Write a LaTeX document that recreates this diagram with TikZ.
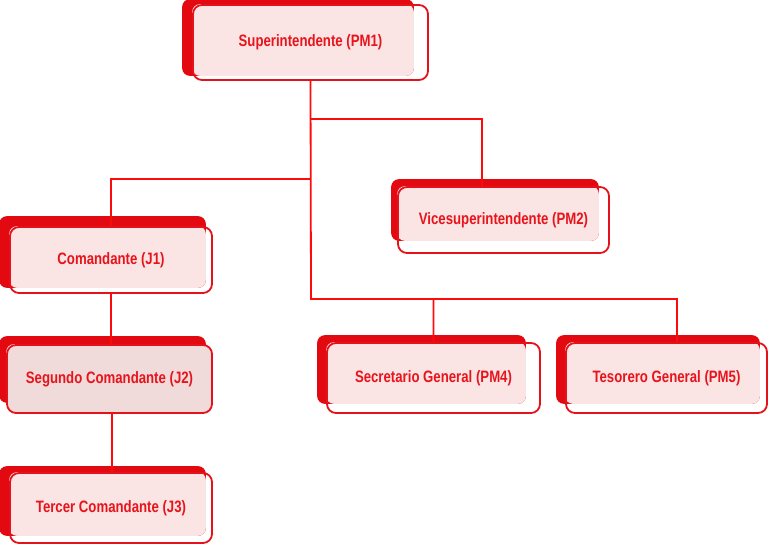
\documentclass[tikz,border=0pt]{standalone}
\usepackage{fontspec}
\setmainfont{Liberation Sans}[FakeStretch=0.8]
\usetikzlibrary{backgrounds}

\definecolor{sombra}{HTML}{E20A10}
\definecolor{borde}{HTML}{E5121B}
\definecolor{texto}{HTML}{E8141C}
\definecolor{linea}{HTML}{FF0A0A}
\definecolor{rosa}{HTML}{FBE4E4}
\definecolor{rosaosc}{HTML}{F0DADA}

\tikzset{
  puesto/.style={draw=borde, line width=1.8pt, rounded corners=9pt, text=texto,
    font=\fontsize{16.5}{18}\selectfont\bfseries},
  enlace/.style={draw=linea, line width=1.8pt},
}

\begin{document}
\begin{tikzpicture}[x=1pt,y=-1pt]
    \useasboundingbox (0,0) rectangle (768,545);
    % puestos
    \node[puesto, minimum width=235pt, minimum height=75pt] (pm1) at (310.5,42.5) {Superintendente (PM1)};
    \node[puesto, minimum width=211pt, minimum height=66pt] (pm2) at (503.5,220) {Vicesuperintendente (PM2)};
    \node[puesto, minimum width=202pt, minimum height=66pt] (j1) at (111,260) {Comandante (J1)};
    \node[puesto, minimum width=205pt, minimum height=68pt, fill=rosaosc] (j2) at (109.5,379) {Segundo Comandante (J2)};
    \node[puesto, minimum width=202pt, minimum height=70pt] (j3) at (111,508) {Tercer Comandante (J3)};
    \node[puesto, minimum width=213pt, minimum height=70pt] (pm4) at (433.5,378) {Secretario General (PM4)};
    \node[puesto, minimum width=201pt, minimum height=70pt] (pm5) at (666.5,378) {Tesorero General (PM5)};

    % sombras y relleno
    \begin{scope}[on background layer]
    \foreach \n/\l/\t/\r/\b in {pm1/10/5/15/5, pm2/6/7/11/13, j1/10/10/7/6, j2/7/8/7/11,
                                j3/10/6/7/8, pm4/9/7/15/10, pm5/9/7/8/10} {
        \fill[sombra, rounded corners=8pt] ([xshift=-\l pt, yshift=\t pt]\n.north west)
            rectangle ([xshift=-\r pt, yshift=\b pt]\n.south east);
        \fill[rosa, rounded corners=8pt] (\n.north west)
            rectangle ([xshift=-\r pt, yshift=\b pt]\n.south east);
    }
    \end{scope}

    % enlaces
    \coordinate (nudo1) at (311,119);
    \coordinate (nudo2) at (311,179);
    \coordinate (nudo3) at (311,299);
    \coordinate (baja) at (112,413);
    \draw[enlace] (pm1.south) -- (nudo3) -| (pm4.north);
    \draw[enlace] (nudo3) -| ([xshift=10.5pt]pm5.north);
    \draw[enlace] (nudo1) -| ([xshift=-21.5pt]pm2.north);
    \draw[enlace] (nudo2) -| (j1.north);
    \draw[enlace] (j1.south) -- (j1.south |- j2.north);
    \draw[enlace] (baja) -- (baja |- j3.north);
\end{tikzpicture}
\end{document}
